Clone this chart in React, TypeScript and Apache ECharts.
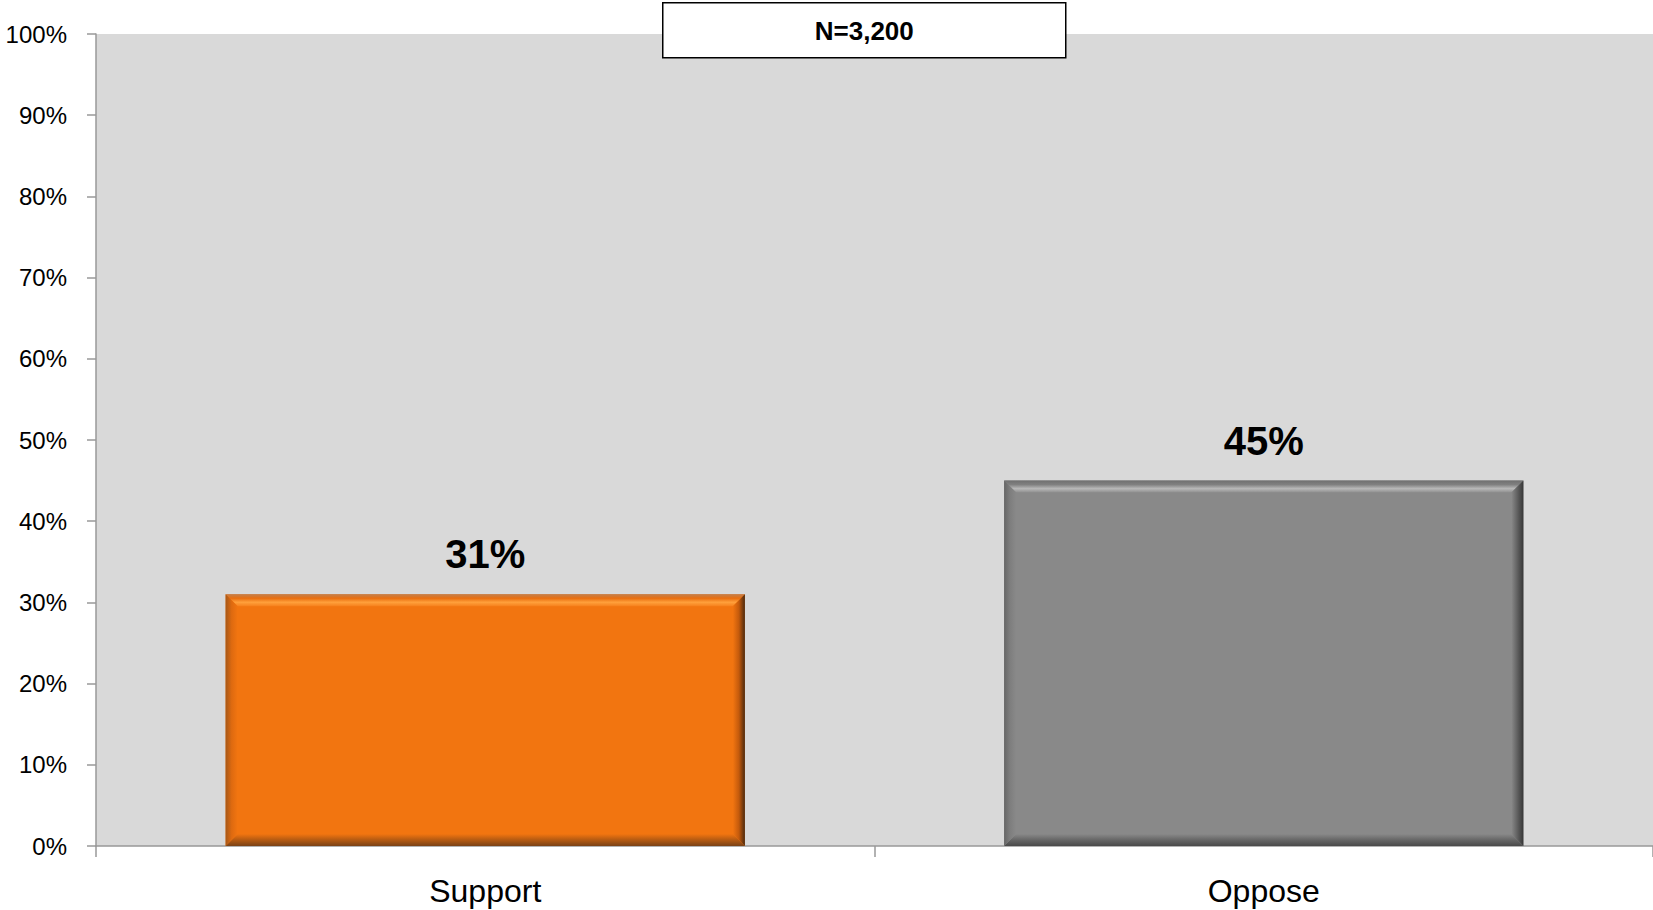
import React, { useEffect, useRef } from "react";
import * as echarts from "echarts";

const categories = ["Support", "Oppose"];
const values = [31, 45];
const yTicks = [0, 10, 20, 30, 40, 50, 60, 70, 80, 90, 100];
const sampleLabel = "N=3,200";

const FONT = "'Liberation Sans', Arial, sans-serif";

const palettes = [
  {
    main: "#f27510",
    top: ["#c08050", "#e96e0e", "#ffa03c", "#f6801c"],
    right: ["#f27510", "#c45a0c", "#4a2a10"],
    bottom: ["#f27510", "#b45a12", "#7a4216"],
    left: ["#a65818", "#de6a10", "#f27510"],
  },
  {
    main: "#898989",
    top: ["#707070", "#808080", "#b8b8b8", "#8e8e8e"],
    right: ["#898989", "#606060", "#363636"],
    bottom: ["#898989", "#666666", "#4a4a4a"],
    left: ["#666666", "#7e7e7e", "#898989"],
  },
];

function lg(x2: number, y2: number, cols: string[]) {
  const n = cols.length;
  return new echarts.graphic.LinearGradient(
    0,
    0,
    x2,
    y2,
    cols.map((c, i) => ({ offset: i / (n - 1), color: c }))
  );
}

export default function App() {
  const ref = useRef<HTMLDivElement>(null);
  useEffect(() => {
    document.body.style.margin = "0";
    if (!ref.current) return;
    const chart = echarts.init(ref.current, null, { renderer: "svg" });
    const option: any = {
      animation: false,
      grid: {
        left: 96,
        right: 0,
        top: 34,
        bottom: 64,
        show: true,
        backgroundColor: "#d9d9d9",
        borderWidth: 0,
      },
      xAxis: {
        type: "category",
        data: categories,
        axisLine: { show: true, lineStyle: { color: "#989898", width: 1.5 } },
        axisTick: { show: true, length: 11, lineStyle: { color: "#989898", width: 1.5 } },
        axisLabel: {
          color: "#000",
          fontSize: 32,
          lineHeight: 32,
          fontFamily: FONT,
          margin: 29,
        },
        splitLine: { show: false },
      },
      yAxis: {
        type: "value",
        min: yTicks[0],
        max: yTicks[yTicks.length - 1],
        interval: 10,
        axisLine: { show: true, lineStyle: { color: "#989898", width: 1.5 } },
        axisTick: { show: true, length: 9, lineStyle: { color: "#989898", width: 1.5 } },
        axisLabel: {
          color: "#000",
          fontSize: 24,
          fontFamily: FONT,
          margin: 29,
          formatter: "{value}%",
        },
        splitLine: { show: false },
      },
      series: [
        {
          type: "bar",
          barWidth: "66.7%",
          z: 2,
          data: values.map((v, i) => ({
            value: v,
            itemStyle: { color: palettes[i].main },
          })),
          label: {
            show: true,
            position: "top",
            distance: 20,
            formatter: "{c}%",
            color: "#000",
            fontSize: 40,
            fontWeight: "bold",
            fontFamily: FONT,
          },
        },
        {
          type: "custom",
          z: 3,
          silent: true,
          data: values.map((v, i) => [i, v]),
          renderItem: (params: any, api: any) => {
            const idx = api.value(0);
            const v = api.value(1);
            const p = palettes[idx];
            const topPt = api.coord([idx, v]);
            const basePt = api.coord([idx, 0]);
            const bw = api.size([1, 0])[0] * 0.667;
            const l = topPt[0] - bw / 2;
            const r = topPt[0] + bw / 2;
            const t = topPt[1];
            const b = basePt[1];
            const bv = 12;
            return {
              type: "group",
              children: [
                {
                  type: "polygon",
                  shape: { points: [[l, t], [r, t], [r - bv, t + bv], [l + bv, t + bv]] },
                  style: { fill: lg(0, 1, p.top) },
                },
                {
                  type: "polygon",
                  shape: { points: [[r, t], [r, b], [r - bv, b - bv], [r - bv, t + bv]] },
                  style: { fill: lg(1, 0, p.right) },
                },
                {
                  type: "polygon",
                  shape: { points: [[l, b], [r, b], [r - bv, b - bv], [l + bv, b - bv]] },
                  style: { fill: lg(0, 1, p.bottom) },
                },
                {
                  type: "polygon",
                  shape: { points: [[l, t], [l + bv, t + bv], [l + bv, b - bv], [l, b]] },
                  style: { fill: lg(1, 0, p.left) },
                },
              ],
            };
          },
        },
      ],
      graphic: [
        {
          type: "group",
          left: 662,
          top: 2,
          children: [
            {
              type: "rect",
              shape: { x: 0, y: 0, width: 403, height: 55 },
              style: { fill: "#fff", stroke: "#000", lineWidth: 1.5 },
            },
            {
              type: "text",
              x: 201.5,
              y: 28,
              style: {
                text: sampleLabel,
                fill: "#000",
                font: `bold 26px ${FONT}`,
                align: "center",
                verticalAlign: "middle",
              },
            },
          ],
        },
      ],
    };
    chart.setOption(option);
    return () => chart.dispose();
  }, []);
  return <div ref={ref} style={{ width: 1653, height: 910 }} />;
}
